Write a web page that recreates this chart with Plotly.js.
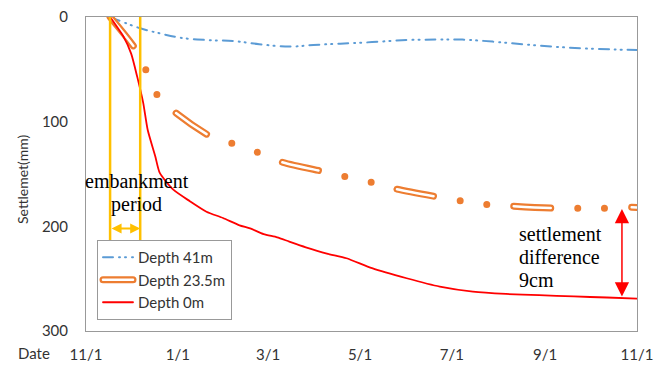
<!DOCTYPE html>
<html>
<head>
<meta charset="utf-8">
<script src="https://cdn.plot.ly/plotly-3.0.1.min.js"></script>
<style>
  html, body { margin: 0; padding: 0; background: #fff; }
  #chart { width: 656px; height: 365px; }
  .js-line { stroke-linecap: round; }
</style>
</head>
<body>
<div id="chart"></div>
<script>
// ---- data ----
var depth41Dates = ['2019-11-17','2019-12-07','2019-12-20','2020-01-02','2020-01-20','2020-02-07','2020-02-24','2020-03-15','2020-03-31','2020-04-18','2020-05-09','2020-06-01','2020-06-21','2020-07-08','2020-07-28','2020-08-17','2020-09-06','2020-09-26','2020-10-16','2020-11-01'];
var depth41Values = [0,10.8,15.6,19.7,22,23,26,28.3,26.7,25.5,24,22,21.6,21.6,23.5,26,28.3,30,31,31.5];

var depth235Dates = ['2019-11-17','2019-12-05','2019-12-12','2019-12-19','2019-12-31','2020-01-24','2020-02-09','2020-02-24','2020-03-11','2020-04-08','2020-04-23','2020-05-09','2020-05-24','2020-06-22','2020-07-08','2020-07-24','2020-08-08','2020-09-08','2020-09-23','2020-10-09','2020-10-26','2020-11-01'];
var depth235Values = [0,33,54.5,76,92,115,122,130,139,148,153,158,164,172,176,179,180.5,182.7,182.7,182.7,181.7,182];

var depth0Dates = ['2019-11-17','2019-11-26','2019-12-01','2019-12-05','2019-12-09','2019-12-12','2019-12-17','2019-12-20','2019-12-29','2020-01-09','2020-01-20','2020-01-31','2020-02-11','2020-02-18','2020-02-27','2020-03-07','2020-03-15','2020-03-26','2020-04-09','2020-04-22','2020-05-09','2020-06-01','2020-06-23','2020-07-15','2020-08-06','2020-08-28','2020-09-20','2020-10-12','2020-11-01'];
var depth0Values = [0,19,35,57,82,108,133,149,165,176,186,192,199,202,207.5,210.5,214.6,220,226,230.5,240,249.6,257.6,262.4,264.6,265.8,267,268,269];

var seriesNames = ['Depth 41m','Depth 23.5m','Depth 0m'];
var embankmentStart = '2019-11-17';
var embankmentEnd = '2019-12-07';
var diffDate = '2020-10-22';
var diffTop = 182;
var diffBottom = 267;
var xTickFormat = '%-m/%-d';
var yTickVals = [0,100,200,300];

// ---- traces ----
var traces = [
  {
    x: depth41Dates, y: depth41Values, name: seriesNames[0], type: 'scatter', mode: 'lines',
    line: {color: '#5B9BD5', width: 2, shape: 'spline', smoothing: 1, dash: '10px,6px,1px,5px,1px,6px'}
  },
  {
    x: depth235Dates, y: depth235Values, name: seriesNames[1], type: 'scatter', mode: 'lines',
    line: {color: '#ED7D31', width: 7, shape: 'spline', smoothing: 0.8, dash: '37px,27px,0px,27px,0px,27px'}
  },
  {
    x: depth235Dates, y: depth235Values, name: seriesNames[1] + ' inner', type: 'scatter', mode: 'lines',
    showlegend: false, hoverinfo: 'skip',
    line: {color: '#FFFFFF', width: 2.5, shape: 'spline', smoothing: 0.8, dash: '37px,81px'}
  },
  {
    x: depth0Dates, y: depth0Values, name: seriesNames[2], type: 'scatter', mode: 'lines',
    line: {color: '#FF0000', width: 1.8, shape: 'spline', smoothing: 0.6}
  }
];

function px2x(px) { return (px - 86) / 551; }
function py2y(py) { return (331 - py) / 314; }

var serif = {family: '"Liberation Serif", "Times New Roman", serif', size: 20, color: '#000'};

function serifLabel(text, px, py, anchor) {
  return {xref: 'paper', yref: 'paper', x: px2x(px), y: py2y(py), xanchor: anchor, yanchor: 'middle',
          text: text, showarrow: false, font: serif, borderpad: 0};
}

var layout = {
  width: 656, height: 365,
  margin: {l: 86, r: 19, t: 17, b: 34},
  paper_bgcolor: '#fff', plot_bgcolor: '#fff',
  font: {family: 'Lato, "Open Sans", sans-serif', size: 15, color: '#333'},
  showlegend: true,
  legend: {
    x: px2x(97), y: py2y(240), xanchor: 'left', yanchor: 'top',
    bgcolor: '#fff', bordercolor: '#999', borderwidth: 1,
    font: {family: 'Lato, sans-serif', size: 15, color: '#333'},
    traceorder: 'normal'
  },
  xaxis: {
    type: 'date',
    range: ['2019-11-01', '2020-11-01'],
    tick0: '2019-11-01', dtick: 'M2', tickformat: xTickFormat,
    showgrid: false, zeroline: false,
    showline: true, linecolor: '#999', linewidth: 1, mirror: true,
    ticks: '', ticklabelstandoff: 10,
    tickfont: {family: 'Lato, sans-serif', size: 15, color: '#333'}
  },
  yaxis: {
    range: [300, 0],
    tickvals: yTickVals,
    showgrid: false, zeroline: false,
    showline: true, linecolor: '#999', linewidth: 1, mirror: true,
    ticks: '', ticklabelstandoff: 14,
    tickfont: {family: 'Lato, sans-serif', size: 15, color: '#333'}
  },
  shapes: [
    {type: 'line', xref: 'x', yref: 'y', x0: embankmentStart, x1: embankmentStart, y0: 0, y1: 216,
     line: {color: '#FFC000', width: 2.5}},
    {type: 'line', xref: 'x', yref: 'y', x0: embankmentEnd, x1: embankmentEnd, y0: 0, y1: 216,
     line: {color: '#FFC000', width: 2.5}}
  ],
  annotations: [
    // embankment period double arrow
    {xref: 'x', yref: 'y', axref: 'x', ayref: 'y', x: embankmentEnd, y: 202, ax: embankmentStart, ay: 202,
     text: '', showarrow: true, arrowhead: 2, startarrowhead: 2, arrowside: 'end+start',
     arrowcolor: '#FFC000', arrowwidth: 2, arrowsize: 1, startarrowsize: 1, standoff: 0, startstandoff: 0},
    // settlement difference double arrow
    {xref: 'x', yref: 'y', axref: 'x', ayref: 'y', x: diffDate, y: diffBottom, ax: diffDate, ay: diffTop,
     text: '', showarrow: true, arrowhead: 2, startarrowhead: 2, arrowside: 'end+start',
     arrowcolor: '#FF0000', arrowwidth: 1.5, arrowsize: 1.9, startarrowsize: 1.9, standoff: 0, startstandoff: 0},
    serifLabel('embankment', 136.7, 181, 'center'),
    serifLabel('period', 136.7, 204, 'center'),
    serifLabel('settlement', 518, 234, 'left'),
    serifLabel('difference', 518, 257, 'left'),
    serifLabel('9cm', 518, 280, 'left'),
    {xref: 'paper', yref: 'paper', x: px2x(34), y: py2y(353), xanchor: 'center', yanchor: 'middle',
     text: 'Date', showarrow: false, font: {family: 'Lato, sans-serif', size: 15, color: '#333'}},
    {xref: 'paper', yref: 'paper', x: px2x(22), y: py2y(180), xanchor: 'center', yanchor: 'middle',
     text: 'Settlemet(mm)', textangle: -90, showarrow: false,
     font: {family: 'Lato, sans-serif', size: 14, color: '#333'}}
  ]
};

Plotly.newPlot('chart', traces, layout, {staticPlot: true, displayModeBar: false}).then(function (gd) {
  var items = gd.querySelectorAll('.legend .traces');
  items.forEach(function (it) {
    var p = it.querySelector('path.js-line');
    if (!p) return;
    if (it.textContent.indexOf('23.5') >= 0) {
      p.style.strokeWidth = '7px';
      p.style.strokeDasharray = 'none';
      var w = p.cloneNode();
      w.style.stroke = '#fff';
      w.style.strokeWidth = '2.5px';
      w.style.strokeDasharray = 'none';
      p.parentNode.appendChild(w);
    }
  });
});
</script>
</body>
</html>
